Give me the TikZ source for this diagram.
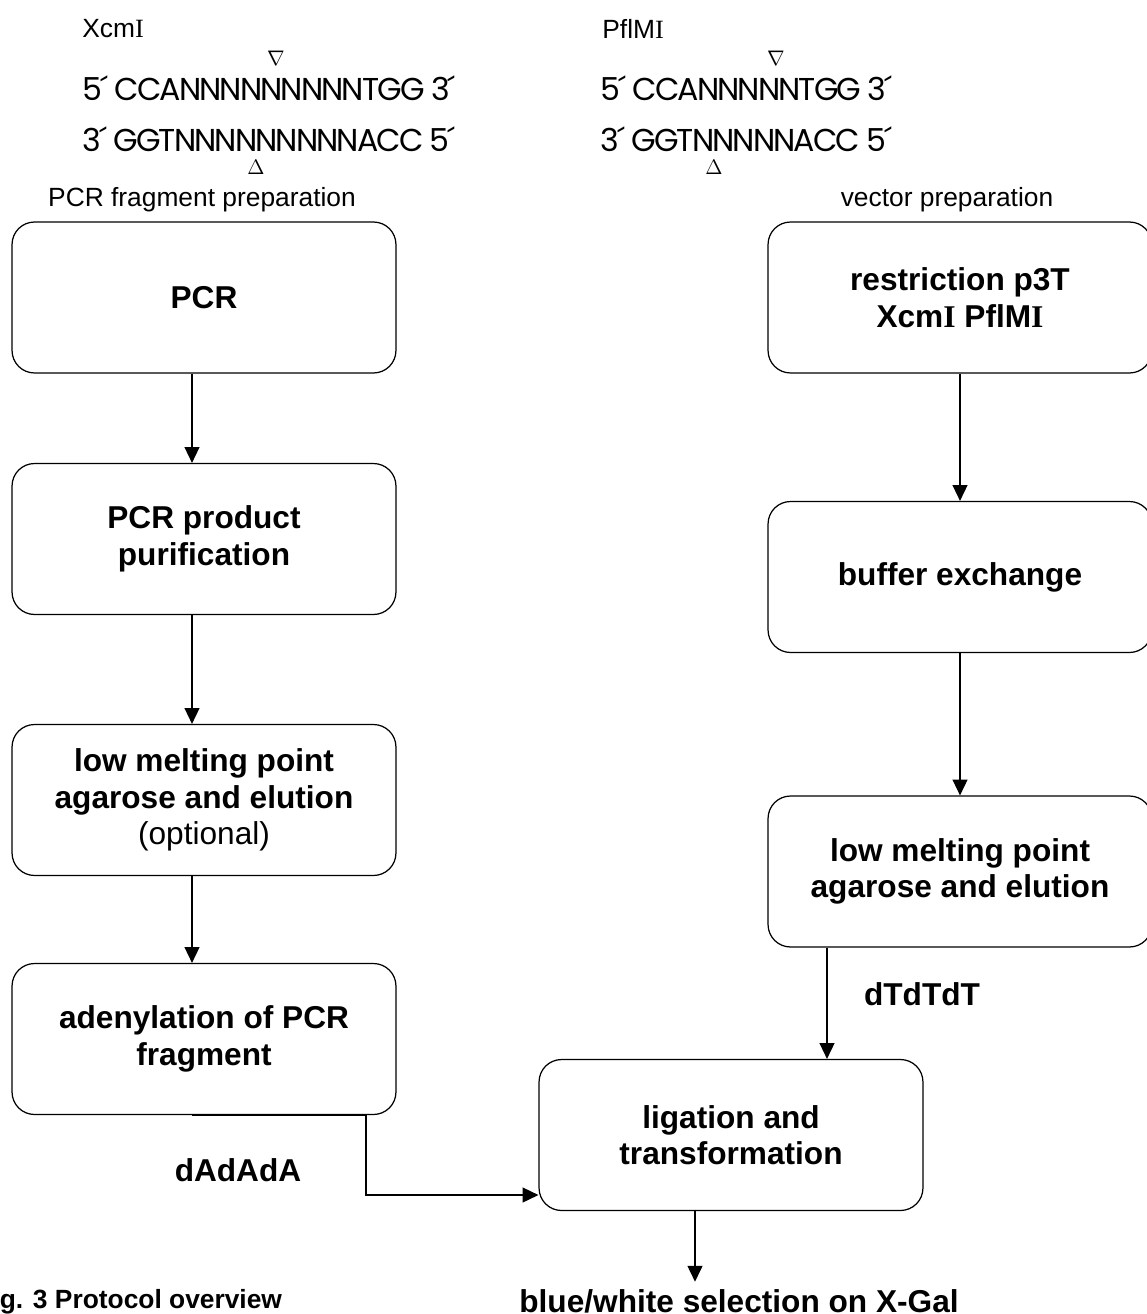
\documentclass[tikz,border=0pt]{standalone}
\usepackage{fontspec}
\setmainfont{Liberation Sans}
\newfontfamily\seqfont[LetterSpace=-6]{Poppins}
\newfontfamily\serifI{Liberation Serif}
\usetikzlibrary{arrows.meta}

\newcommand{\enzI}{{\serifI I}}

\tikzset{
  stepbox/.style={draw, line width=0.7pt, rounded corners=0.45cm,
    minimum width=7.68cm, minimum height=3.02cm, align=center,
    font=\fontsize{18}{20.8}\selectfont\bfseries},
  flow/.style={-{Triangle[length=9pt,width=8.5pt]}, line width=0.7pt},
  head/.style={font=\fontsize{15}{18}\selectfont},
  seq/.style={anchor=west, inner sep=0pt, text depth=0pt, font=\seqfont\fontsize{18}{20}\selectfont},
  cut/.style={inner sep=0pt, font=\fontsize{13}{13}\selectfont},
  tag/.style={font=\fontsize{18}{21}\selectfont\bfseries}
}

\begin{document}
\begin{tikzpicture}[x=0.02cm, y=-0.02cm]
        \useasboundingbox (0,0) rectangle (1146,1314);

        % recognition sites
        \node[head, anchor=west, inner sep=0pt] (xcm) at (82,29) {Xcm\enzI};
        \node[seq] (xcmtop) at (82,88) {5´ CCANNNNNNNNNTGG 3´};
        \node[seq] (xcmbot) at (82,139) {3´ GGTNNNNNNNNNACC 5´};
        \node[cut] (xcmcuta) at (276,58) {$\nabla$};
        \node[cut] (xcmcutb) at (256,167) {$\Delta$};

        \node[head, anchor=west, inner sep=0pt] (pfl) at (602,29) {PflM\enzI};
        \node[seq] (pfltop) at (600,88) {5´ CCANNNNNTGG 3´};
        \node[seq] (pflbot) at (600,139) {3´ GGTNNNNNACC 5´};
        \node[cut] (pflcuta) at (776,58) {$\nabla$};
        \node[cut] (pflcutb) at (714,167) {$\Delta$};

        % column titles
        \node[head] (leftcol) at (202,200) {PCR fragment preparation};
        \node[head] (rightcol) at (947,200) {vector preparation};

        % PCR fragment side
        \node[stepbox] (pcr) at (204,297.5) {PCR};
        \node[stepbox] (purif) at (204,539) {PCR product\\purification};
        \node[stepbox] (lowmeltL) at (204,800) {low melting point\\agarose and elution\\{\mdseries (optional)}};
        \node[stepbox] (adenyl) at (204,1039) {adenylation of PCR\\fragment};

        % vector side
        \node[stepbox] (restr) at (960,297.5) {restriction p3T\\Xcm\enzI{} PflM\enzI};
        \node[stepbox] (buffer) at (960,577) {buffer exchange};
        \node[stepbox] (lowmeltR) at (960,871.5) {low melting point\\agarose and elution};

        \node[stepbox] (ligat) at (731,1135) {ligation and\\transformation};
        \node[tag, anchor=base, inner sep=4pt] (select) at (739,1312) {blue/white selection on X-Gal};

        \node[tag] (dA) at (238,1170) {dAdAdA};
        \node[tag] (dT) at (922,994) {dTdTdT};

        \node[anchor=base west, inner sep=0pt, font=\fontsize{15}{18}\selectfont\bfseries] (caption) at (-24,1308) {Fig. 3 Protocol overview};

        % connectors
        \coordinate (colL) at (192,0);
        \coordinate (colM) at (827,0);
        \coordinate (colB) at (695,0);
        \coordinate (bend) at (366,1195);

        \draw[flow] (pcr.south -| colL) -- (purif.north -| colL);
        \draw[flow] (purif.south -| colL) -- (lowmeltL.north -| colL);
        \draw[flow] (lowmeltL.south -| colL) -- (adenyl.north -| colL);
        \draw[flow] (restr) -- (buffer);
        \draw[flow] (buffer) -- (lowmeltR);
        \draw[flow] (lowmeltR.south -| colM) -- (ligat.north -| colM);
        \draw[line width=1.5pt] (adenyl.south -| colL) -- (adenyl.south -| bend);
        \draw[flow] (adenyl.south -| bend) -- (bend) -- (bend -| ligat.west);
        \draw[flow] (ligat.south -| colB) -- (select.north -| colB);

    \end{tikzpicture}
\end{document}
